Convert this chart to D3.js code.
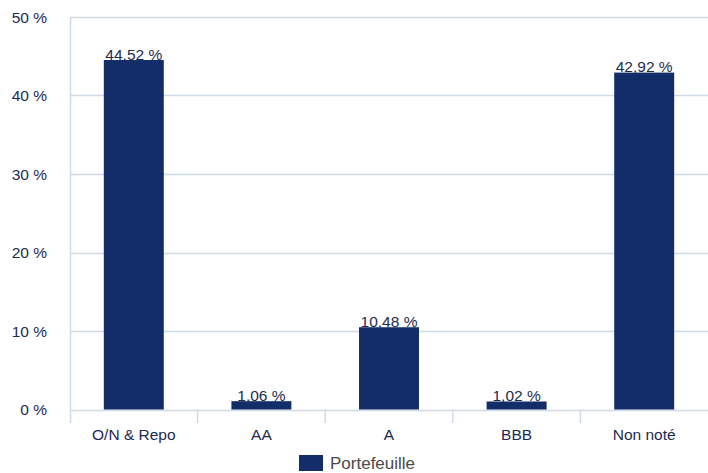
<!DOCTYPE html>
<html>
<head>
<meta charset="utf-8">
<script src="https://cdn.jsdelivr.net/npm/d3@7"></script>
<style>
  html, body { margin: 0; padding: 0; background: #fff; }
  svg { display: block; font-family: "Liberation Sans", Arial, Helvetica, sans-serif; }
</style>
</head>
<body>
<svg id="chart" width="708" height="473"></svg>
<script>
// Répartition par notation
const categories = ["O/N & Repo", "AA", "A", "BBB", "Non noté"];
const portefeuille = [44.52, 1.06, 10.48, 1.02, 42.92];
const yTicks = [0, 10, 20, 30, 40, 50];
const seriesName = "Portefeuille";

const fmt = v => v.toFixed(2).replace(".", ",") + " %";

const svg = d3.select("#chart");
const margin = { left: 70, right: 0, top: 17, bottom: 63 };
const W = 708, H = 473;

const x = d3.scaleBand()
  .domain(categories)
  .range([margin.left, W - margin.right])
  .paddingInner(0.53)
  .paddingOuter(0.265);

const y = d3.scaleLinear()
  .domain([0, 50])
  .range([H - margin.bottom - 0.5, margin.top]);

const gridColor = "#cfdae8";
const textColor = "#1d2b50";
const barColor = "#132d69";
const fontSize = 15.5;

// Horizontal gridlines
svg.append("g")
  .selectAll("line")
  .data(yTicks)
  .join("line")
  .attr("x1", margin.left)
  .attr("x2", W)
  .attr("y1", d => Math.round(y(d)) + 0.5)
  .attr("y2", d => Math.round(y(d)) + 0.5)
  .attr("stroke", gridColor)
  .attr("stroke-width", 1.5);

// Y axis labels
svg.append("g")
  .selectAll("text")
  .data(yTicks)
  .join("text")
  .attr("x", 47)
  .attr("y", d => y(d) + 5.5)
  .attr("text-anchor", "end")
  .attr("font-size", fontSize)
  .attr("fill", textColor)
  .text(d => d + " %");

// Vertical axis line
svg.append("line")
  .attr("x1", margin.left + 0.5).attr("x2", margin.left + 0.5)
  .attr("y1", margin.top).attr("y2", 423)
  .attr("stroke", gridColor).attr("stroke-width", 1.5);

// Category separators below the baseline
svg.append("g")
  .selectAll("line")
  .data(categories.slice(1))
  .join("line")
  .attr("x1", d => x(d) - x.step() * x.paddingInner() / 2)
  .attr("x2", d => x(d) - x.step() * x.paddingInner() / 2)
  .attr("y1", y(0))
  .attr("y2", 423)
  .attr("stroke", gridColor)
  .attr("stroke-width", 1.5);

// Bars
svg.append("g")
  .selectAll("rect")
  .data(portefeuille)
  .join("rect")
  .attr("x", (d, i) => x(categories[i]))
  .attr("width", x.bandwidth())
  .attr("y", d => y(d))
  .attr("height", d => y(0) - y(d))
  .attr("fill", barColor);

// Value labels
svg.append("g")
  .selectAll("text")
  .data(portefeuille)
  .join("text")
  .attr("x", (d, i) => x(categories[i]) + x.bandwidth() / 2)
  .attr("y", d => y(d) - 0.5)
  .attr("text-anchor", "middle")
  .attr("font-size", fontSize)
  .attr("fill", textColor)
  .text(d => fmt(d));

// Category labels
svg.append("g")
  .selectAll("text")
  .data(categories)
  .join("text")
  .attr("x", d => x(d) + x.bandwidth() / 2)
  .attr("y", 440)
  .attr("text-anchor", "middle")
  .attr("font-size", fontSize)
  .attr("fill", textColor)
  .text(d => d);

// Legend
const legend = svg.append("g").attr("transform", "translate(299,455)");
legend.append("rect").attr("width", 24).attr("height", 16).attr("fill", barColor);
legend.append("text")
  .attr("x", 31).attr("y", 14)
  .attr("font-size", 17)
  .attr("fill", "#4a4a4a")
  .text(seriesName);
</script>
</body>
</html>
